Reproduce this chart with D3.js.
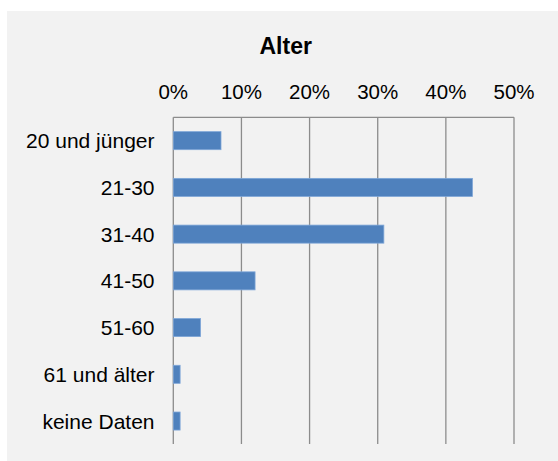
<!DOCTYPE html>
<html>
<head>
<meta charset="utf-8">
<script src="https://cdn.jsdelivr.net/npm/d3@7"></script>
<style>
  html, body { margin: 0; padding: 0; background: #ffffff; }
  svg { display: block; }
</style>
</head>
<body>
<script>
const title = "Alter";
const categories = ["20 und jünger", "21-30", "31-40", "41-50", "51-60", "61 und älter", "keine Daten"];
const values = [0.07, 0.439, 0.309, 0.12, 0.04, 0.01, 0.01];
const tickValues = [0, 0.1, 0.2, 0.3, 0.4, 0.5];

const W = 558, H = 461;
const svg = d3.select("body").append("svg").attr("width", W).attr("height", H);

svg.append("rect").attr("x", 7).attr("y", 11).attr("width", W - 7).attr("height", H - 11)
  .attr("fill", "#f2f2f2");

const x = d3.scaleLinear().domain([0, 0.5]).range([173.3, 514]);
const y = d3.scaleBand().domain(categories).range([117.3, 444.4])
  .paddingInner(0.614).paddingOuter(0.307);

const font = "Liberation Sans, Arial, sans-serif";

// title
svg.append("text").attr("x", 285.7).attr("y", 53.5)
  .attr("text-anchor", "middle").attr("font-family", font)
  .attr("font-size", 23).attr("font-weight", "bold").attr("fill", "#000")
  .text(title);

// gridlines
svg.append("g").selectAll("line").data(tickValues).join("line")
  .attr("x1", d => x(d)).attr("x2", d => x(d))
  .attr("y1", 117.3).attr("y2", 444)
  .attr("stroke", "#8c8c8c").attr("stroke-width", 1.3);

// top axis line
svg.append("line").attr("x1", x(0)).attr("x2", x(0.5))
  .attr("y1", 117.3).attr("y2", 117.3)
  .attr("stroke", "#8c8c8c").attr("stroke-width", 1.3);

// tick labels
svg.append("g").selectAll("text").data(tickValues).join("text")
  .attr("x", d => x(d)).attr("y", 99.3)
  .attr("text-anchor", "middle").attr("font-family", font)
  .attr("font-size", 20.5).attr("fill", "#000")
  .text(d => d3.format(".0%")(d));

// bars
svg.append("g").selectAll("rect").data(categories).join("rect")
  .attr("x", x(0))
  .attr("y", d => y(d))
  .attr("width", (d, i) => x(values[i]) - x(0))
  .attr("height", y.bandwidth())
  .attr("fill", "#4f81bd")
  .attr("stroke", "#7ea6d8").attr("stroke-width", 0.8);

// category labels
svg.append("g").selectAll("text").data(categories).join("text")
  .attr("x", 154.5).attr("y", d => y(d) + y.bandwidth() / 2)
  .attr("dy", "0.36em")
  .attr("text-anchor", "end").attr("font-family", font)
  .attr("font-size", 21).attr("fill", "#000")
  .text(d => d);
</script>
</body>
</html>
